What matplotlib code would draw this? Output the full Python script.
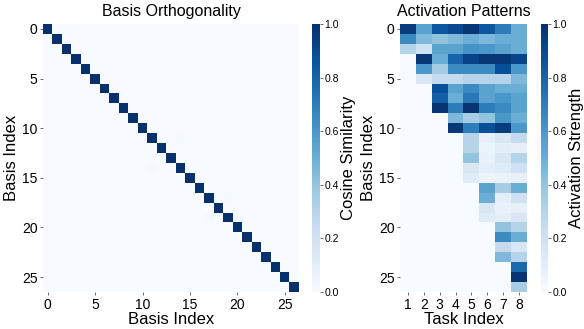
import numpy as np
import matplotlib.pyplot as plt

plt.rcParams['font.family'] = ['Liberation Sans', 'DejaVu Sans']

n_basis = 27
task_labels = ['1', '2', '3', '4', '5', '6', '7', '8']

# faint off-diagonal overlaps in the orthogonality matrix
ortho_offdiag = [(11, 14, 0.012), (17, 19, 0.012)]

# activation strength per task, basis rows 0..k (rest are zero)
act_task1 = [0.95, 0.65, 0.3]
act_task2 = [0.55, 0.45, 0.2, 0.97, 0.6, 0.15]
act_task3 = [0.85, 0.4, 0.55, 0.5, 0.35, 0.25, 0.88, 0.82, 0.98]
act_task4 = [0.9, 0.45, 0.55, 0.8, 0.65, 0.25, 0.55, 0.5, 0.7, 0.45, 0.97]
act_task5 = [0.97, 0.5, 0.62, 0.93, 0.65, 0.3, 0.65, 0.72, 0.98, 0.35, 0.7,
             0.3, 0.3, 0.4, 0.15, 0.12]
act_task6 = [0.85, 0.45, 0.6, 0.97, 0.65, 0.3, 0.55, 0.55, 0.7, 0.4, 0.88,
             0.08, 0.06, 0.07, 0.1, 0.05, 0.55, 0.5, 0.15, 0.12]
act_task7 = [0.7, 0.5, 0.55, 0.97, 0.88, 0.3, 0.5, 0.6, 0.65, 0.6, 0.95,
             0.15, 0.1, 0.15, 0.12, 0.07, 0.35, 0.1, 0.07, 0.1, 0.4, 0.65, 0.25, 0.45]
act_task8 = [0.5, 0.5, 0.5, 0.92, 0.6, 0.45, 0.5, 0.55, 0.55, 0.5, 0.6,
             0.25, 0.08, 0.3, 0.2, 0.08, 0.5, 0.2, 0.08, 0.15, 0.3, 0.5, 0.15, 0.3,
             0.78, 0.98, 0.35]

ortho = np.eye(n_basis)
for i, j, v in ortho_offdiag:
    ortho[i, j] = v
    ortho[j, i] = v

acts = [act_task1, act_task2, act_task3, act_task4, act_task5, act_task6, act_task7, act_task8]
act = np.zeros((n_basis, len(acts)))
for t, col in enumerate(acts):
    act[:len(col), t] = col

fig = plt.figure(figsize=(5.84, 3.29), dpi=100)
W, H = 584, 329

def box(x0, y0, x1, y1):
    return [x0 / W, 1 - y1 / H, (x1 - x0) / W, (y1 - y0) / H]

ax1 = fig.add_axes(box(43, 24, 299, 292))
cax1 = fig.add_axes(box(312, 24, 320, 292))
ax2 = fig.add_axes(box(400, 24, 527, 292))
cax2 = fig.add_axes(box(541, 24, 548, 292))

im1 = ax1.imshow(ortho, cmap='Blues', vmin=0, vmax=1, aspect='auto', interpolation='nearest')
ax1.set_title('Basis Orthogonality', fontsize=11.5)
ax1.set_xlabel('Basis Index', fontsize=12, labelpad=0)
ax1.set_ylabel('Basis Index', fontsize=12, labelpad=2)
ax1.set_xticks(range(0, n_basis, 5))
ax1.set_yticks(range(0, n_basis, 5))

im2 = ax2.imshow(act, cmap='Blues', vmin=0, vmax=1, aspect='auto', interpolation='nearest')
ax2.set_title('Activation Patterns', fontsize=11.5)
ax2.set_xlabel('Task Index', fontsize=12, labelpad=0)
ax2.set_ylabel('Basis Index', fontsize=12, labelpad=2)
ax2.set_xticks(range(len(task_labels)))
ax2.set_xticklabels(task_labels)
ax2.set_yticks(range(0, n_basis, 5))

for ax in (ax1, ax2):
    for s in ax.spines.values():
        s.set_visible(False)
    ax.tick_params(labelsize=10, length=2.5, width=0.6, pad=1.5, color='#555555')

for im, cax, lab in ((im1, cax1, 'Cosine Similarity'), (im2, cax2, 'Activation Strength')):
    cb = fig.colorbar(im, cax=cax)
    cb.outline.set_visible(False)
    cb.set_ticks([0, 0.2, 0.4, 0.6, 0.8, 1.0])
    cb.ax.tick_params(labelsize=7.5, length=2, width=0.6, pad=1, color='#555555')
    cb.set_label(lab, fontsize=12, labelpad=2)

fig.savefig('out.png', dpi=100)
